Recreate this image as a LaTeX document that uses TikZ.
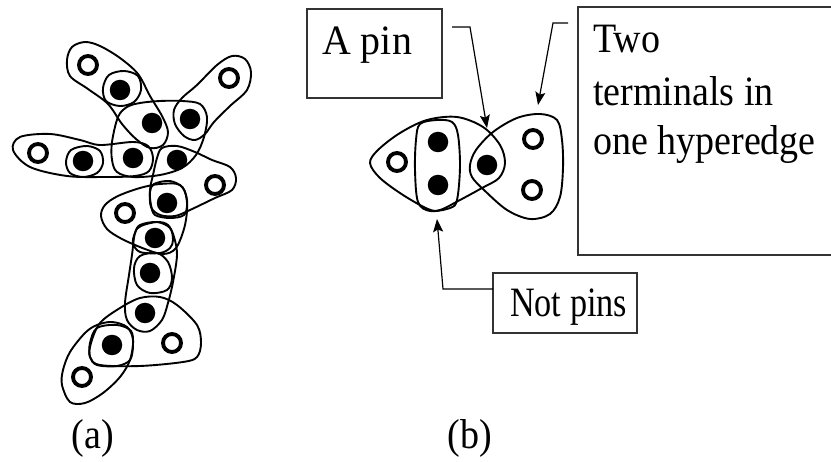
\documentclass[tikz,border=0pt]{standalone}
\usepackage{fontspec}
\setmainfont{Liberation Serif}
\usetikzlibrary{arrows.meta}
\begin{document}
\begin{tikzpicture}[x=1pt,y=-1pt,
  hedge/.style={line width=1.9pt},
  pinon/.style={circle, fill=black, inner sep=0pt, minimum size=20.5pt},
  pinoff/.style={circle, draw=black, line width=3.9pt, fill=white, inner sep=0pt, minimum size=18pt},
  labelbox/.style={draw=black!80, line width=1.4pt},
  lbl/.style={font=\fontsize{38}{46}\selectfont, inner sep=0pt},
  callout/.style={line width=1.2pt, -{Stealth[length=13pt,width=10pt,inset=2.5pt]}}]
\useasboundingbox (0,0) rectangle (831,462);

% ---------- (a) terminals ----------
\node[pinoff] (o1) at (88,65) {};
\node[pinon]  (f1) at (120,90) {};
\node[pinon]  (f2) at (152,123) {};
\node[pinon]  (f3) at (190,119) {};
\node[pinoff] (o2) at (229,78) {};
\node[pinoff] (o3) at (38,153) {};
\node[pinon]  (f4) at (83,161) {};
\node[pinon]  (f5) at (133,158) {};
\node[pinon]  (f6) at (177,160) {};
\node[pinoff] (o4) at (215,185) {};
\node[pinon]  (f7) at (167,203) {};
\node[pinoff] (o5) at (125,213) {};
\node[pinon]  (f8) at (155,238) {};
\node[pinon]  (f9) at (150,273) {};
\node[pinon]  (f10) at (145,313) {};
\node[pinon]  (f11) at (112,345) {};
\node[pinoff] (o6) at (172,343) {};
\node[pinoff] (o7) at (82,377) {};

% ---------- (a) hyperedges ----------
\draw[hedge] plot[smooth cycle, tension=0.55] coordinates {(67,60) (72,47) (85,42) (100,46) (120,58) (138,74) (150,96) (162,116) (168,132) (163,145) (150,148) (136,139) (122,124) (108,104) (88,89) (70,76)};
\draw[hedge] plot[smooth cycle, tension=0.55] coordinates {(103,88) (109,75) (124,71) (138,76) (141,90) (134,102) (120,106) (106,101)};
\draw[hedge] plot[smooth cycle, tension=0.55] coordinates {(217,65) (232,56) (245,59) (251,72) (247,90) (230,106) (214,122) (205,134) (195,140) (184,136) (175,124) (174,110) (182,98) (197,85)};
\draw[hedge] plot[smooth cycle, tension=0.55] coordinates {(118,117) (127,107) (140,103) (160,101) (182,101) (200,104) (207,117) (204,137) (196,155) (182,168) (160,175) (133,177) (117,172) (112,160) (112,142)};
\draw[hedge] plot[smooth cycle, tension=0.55] coordinates {(66,162) (71,150) (87,146) (100,151) (103,163) (97,173) (83,177) (70,173)};
\draw[hedge] plot[smooth cycle, tension=0.55] coordinates {(13,150) (20,137) (50,134) (80,140) (100,145) (133,142) (148,146) (153,158) (149,171) (135,176) (105,177) (67,176) (30,167)};
\draw[hedge] plot[smooth cycle, tension=0.55] coordinates {(157,158) (162,148) (177,146) (195,152) (212,160) (230,167) (236,178) (232,190) (215,198) (190,210) (175,216) (160,215) (151,207) (150,190) (153,175)};
\draw[hedge] plot[smooth cycle, tension=0.55] coordinates {(150,192) (154,184) (170,181) (183,188) (187,203) (184,215) (170,218) (155,215) (151,205)};
\draw[hedge] plot[smooth cycle, tension=0.55] coordinates {(101,216) (105,205) (118,196) (140,188) (160,184) (180,185) (187,200) (185,225) (176,248) (163,254) (145,249) (122,239) (107,229)};
\draw[hedge] plot[smooth cycle, tension=0.55] coordinates {(133,243) (135,233) (140,225) (157,222) (170,228) (173,240) (170,248) (160,253) (140,252)};
\draw[hedge] plot[smooth cycle, tension=0.55] coordinates {(135,233) (141,226) (157,222) (168,225) (174,237) (177,255) (173,282) (168,303) (162,320) (150,331) (137,330) (127,320) (125,303) (129,275) (132,255)};
\draw[hedge] plot[smooth cycle, tension=0.55] coordinates {(134,268) (140,256) (157,253) (168,262) (172,278) (167,290) (150,293) (137,285)};
\draw[hedge] plot[smooth cycle, tension=0.55] coordinates {(91,343) (100,323) (120,308) (140,298) (160,297) (177,305) (197,325) (201,343) (197,357) (183,362) (140,366) (100,365) (90,357)};
\draw[hedge] plot[smooth cycle, tension=0.55] coordinates {(90,343) (97,328) (117,325) (131,331) (133,345) (130,360) (117,366) (97,365) (90,357)};
\draw[hedge] plot[smooth cycle, tension=0.55] coordinates {(62,385) (63,370) (70,352) (85,333) (97,325) (112,322) (127,327) (133,340) (130,360) (120,377) (103,393) (85,403) (70,402)};

% ---------- (b) terminals ----------
\node[pinoff] (ob1) at (397,162) {};
\node[pinon]  (fb1) at (438,142) {};
\node[pinon]  (fb2) at (438,185) {};
\node[pinon]  (fb3) at (487,165) {};
\node[pinoff] (ob2) at (533,139) {};
\node[pinoff] (ob3) at (532,190) {};

% ---------- (b) hyperedges ----------
\draw[hedge] plot[smooth cycle, tension=0.55] coordinates {(370,163) (378,150) (400,133) (427,120) (457,117) (483,127) (500,145) (505,163) (499,178) (482,188) (460,200) (440,210) (428,209) (403,195) (380,178)};
\draw[hedge] plot[smooth cycle, tension=0.55] coordinates {(416,140) (420,124) (437,120) (452,122) (458,135) (460,167) (457,200) (450,208) (430,211) (418,202) (415,170)};
\draw[hedge] plot[smooth cycle, tension=0.55] coordinates {(470,165) (476,150) (493,132) (517,118) (540,114) (557,120) (562,140) (563,168) (560,197) (550,214) (530,219) (507,210) (484,190) (472,177)};

% ---------- callout boxes ----------
\draw[labelbox] (307,9) rectangle (442,98);
\node[lbl, anchor=base west] (apin) at (322,55) {\scalebox{1.05}[1.1]{A pin}};

\draw[labelbox] (578,7) rectangle (845,255);
\node[lbl, anchor=base west] (two1) at (593,53) {\scalebox{1}[1.1]{Two}};
\node[lbl, anchor=base west] (two2) at (593,106) {\scalebox{1}[1.1]{terminals in}};
\node[lbl, anchor=base west] (two3) at (593,155) {\scalebox{1}[1.1]{one hyperedge}};

\draw[labelbox] (493,273) rectangle (637,333);
\node[lbl, anchor=base west] (notpins) at (510,317) {\scalebox{0.9}[1.1]{Not pins}};

% ---------- callout arrows ----------
\coordinate (pinA) at (452,27);
\coordinate (pinB) at (470,27);
\coordinate (pinTip) at (487,128);
\draw[callout] (pinA) -- (pinB) -- (pinTip);

\coordinate (twoA) at (568,23);
\coordinate (twoB) at (553,23);
\coordinate (twoTip) at (538,105);
\draw[callout] (twoA) -- (twoB) -- (twoTip);

\coordinate (notA) at (493,289);
\coordinate (notB) at (443,289);
\coordinate (notTip) at (437,219);
\draw[callout] (notA) -- (notB) -- (notTip);

% ---------- captions ----------
\node[lbl, anchor=base] (capa) at (93,449) {\scalebox{1}[1.1]{(a)}};
\node[lbl, anchor=base] (capb) at (470,449) {\scalebox{1}[1.1]{(b)}};
\end{tikzpicture}
\end{document}
